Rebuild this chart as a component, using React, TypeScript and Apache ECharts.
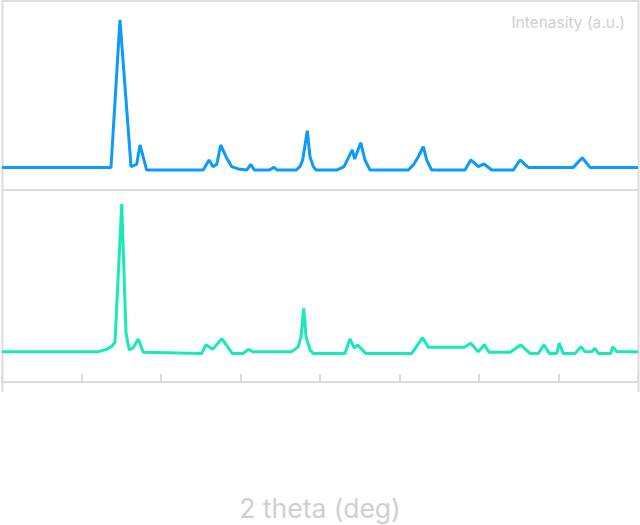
import React, { useEffect, useRef } from "react";
import * as echarts from "echarts";

// 2θ positions (deg) and intensities (a.u., 0-100 scale of each panel)
const topTheta = [10.0, 23.71, 24.84, 26.23, 26.94, 27.36, 28.2, 35.32, 36.04, 36.54, 37.01, 37.51, 38.26, 38.89, 39.72, 40.78, 41.28, 41.74, 43.62, 44.21, 44.63, 46.98, 47.48, 47.82, 48.4, 48.74, 49.16, 49.5, 52.1, 53.02, 54.06, 54.36, 55.12, 55.66, 56.29, 61.11, 61.74, 62.37, 62.99, 63.42, 64.05, 68.24, 68.96, 69.91, 70.63, 71.6, 74.32, 75.16, 76.2, 81.86, 82.99, 83.96, 90.0];
const topIntensity = [11.9, 11.9, 89.5, 12.3, 13.5, 23.7, 10.5, 10.5, 15.8, 12.3, 13.5, 23.7, 16.8, 12.3, 11.1, 10.5, 13.5, 10.5, 10.5, 11.9, 10.5, 10.5, 12.3, 15.8, 31.2, 17.5, 12.3, 10.5, 10.5, 12.3, 21.1, 16.3, 24.9, 15.8, 10.5, 10.5, 13.2, 17.5, 22.8, 15.8, 10.5, 10.5, 15.8, 12.3, 13.7, 10.5, 10.5, 15.8, 11.9, 11.9, 17.0, 11.9, 11.9];

const bottomTheta = [10.0, 22.11, 23.17, 23.8, 24.21, 25.06, 25.6, 26.01, 26.52, 27.14, 27.77, 35.12, 35.66, 36.5, 37.64, 38.97, 40.35, 40.98, 41.54, 46.44, 47.27, 47.61, 47.95, 48.24, 48.74, 49.16, 53.14, 53.77, 54.31, 54.74, 55.75, 61.53, 62.92, 63.62, 68.15, 68.96, 69.91, 70.67, 71.26, 73.9, 75.25, 76.42, 77.46, 78.18, 78.85, 79.77, 80.1, 80.6, 82.08, 82.83, 83.33, 84.18, 84.59, 85.01, 86.57, 86.82, 87.32, 90.0];
const bottomIntensity = [15.8, 15.8, 17.0, 18.6, 20.7, 92.7, 25.4, 16.7, 17.9, 22.4, 15.5, 14.9, 19.4, 17.0, 22.6, 14.9, 14.9, 17.0, 15.8, 15.8, 18.4, 23.6, 38.4, 23.6, 16.7, 14.9, 14.9, 22.4, 17.6, 19.3, 14.9, 14.9, 23.1, 18.1, 18.1, 20.2, 15.8, 19.4, 15.5, 15.5, 19.3, 14.9, 14.9, 19.3, 14.9, 14.9, 20.2, 14.9, 14.9, 18.4, 15.8, 15.8, 17.6, 14.9, 14.9, 18.4, 15.8, 15.8];

const xMin = 10;
const xMax = 90;
const xStep = 10;
const xAxisName = "2 theta (deg)";
const yAxisName = "Intenasity (a.u.)";

const frameColor = "#dcdcdc";
const textColor = "#cfcfcf";

export default function App() {
  const ref = useRef<HTMLDivElement>(null);

  useEffect(() => {
    document.body.style.margin = "0";
    if (!ref.current) return;
    const chart = echarts.init(ref.current, undefined, { renderer: "svg" });
    const topData = topTheta.map((t, i) => [t, topIntensity[i]]);
    const bottomData = bottomTheta.map((t, i) => [t, bottomIntensity[i]]);
    const fontFamily = "Inter, 'Noto Sans', sans-serif";

    chart.setOption({
      animation: false,
      backgroundColor: "#ffffff",
      grid: [
        { left: 2, width: 636, top: 0, height: 190 },
        { left: 2, width: 636, top: 190, height: 192 },
      ],
      xAxis: [
        {
          gridIndex: 0,
          type: "value",
          min: xMin,
          max: xMax,
          interval: xStep,
          show: false,
        },
        {
          gridIndex: 1,
          type: "value",
          min: xMin,
          max: xMax,
          interval: xStep,
          axisLine: { show: true, lineStyle: { color: frameColor, width: 2 } },
          axisTick: { show: true, inside: true, length: 8, lineStyle: { color: frameColor, width: 2 } },
          axisLabel: { show: false },
          splitLine: { show: false },
          name: xAxisName,
          nameLocation: "middle",
          nameGap: 112,
          nameTextStyle: { color: textColor, fontSize: 26.5, fontFamily },
        },
      ],
      yAxis: [
        { gridIndex: 0, type: "value", min: 0, max: 100, show: false },
        { gridIndex: 1, type: "value", min: 0, max: 100, show: false },
      ],
      graphic: [
        { type: "line", shape: { x1: 2, y1: 1, x2: 639, y2: 1 }, style: { stroke: frameColor, lineWidth: 2 }, z: 0 },
        { type: "line", shape: { x1: 2, y1: 190, x2: 639, y2: 190 }, style: { stroke: frameColor, lineWidth: 2 }, z: 0 },
        { type: "line", shape: { x1: 2.5, y1: 0, x2: 2.5, y2: 392 }, style: { stroke: frameColor, lineWidth: 2 }, z: 0 },
        { type: "line", shape: { x1: 638.5, y1: 0, x2: 638.5, y2: 392 }, style: { stroke: frameColor, lineWidth: 2 }, z: 0 },
        {
          type: "text",
          right: 15,
          top: 14,
          style: { text: yAxisName, fill: textColor, fontSize: 15.5, fontFamily },
        },
      ],
      series: [
        {
          type: "line",
          xAxisIndex: 0,
          yAxisIndex: 0,
          data: topData,
          showSymbol: false,
          lineStyle: { color: "#0b9bfb", width: 3 },
          itemStyle: { color: "#0b9bfb" },
        },
        {
          type: "line",
          xAxisIndex: 1,
          yAxisIndex: 1,
          data: bottomData,
          showSymbol: false,
          lineStyle: { color: "#19e8b9", width: 3 },
          itemStyle: { color: "#19e8b9" },
        },
      ],
    });

    return () => chart.dispose();
  }, []);

  return <div ref={ref} style={{ width: 640, height: 525 }} />;
}
